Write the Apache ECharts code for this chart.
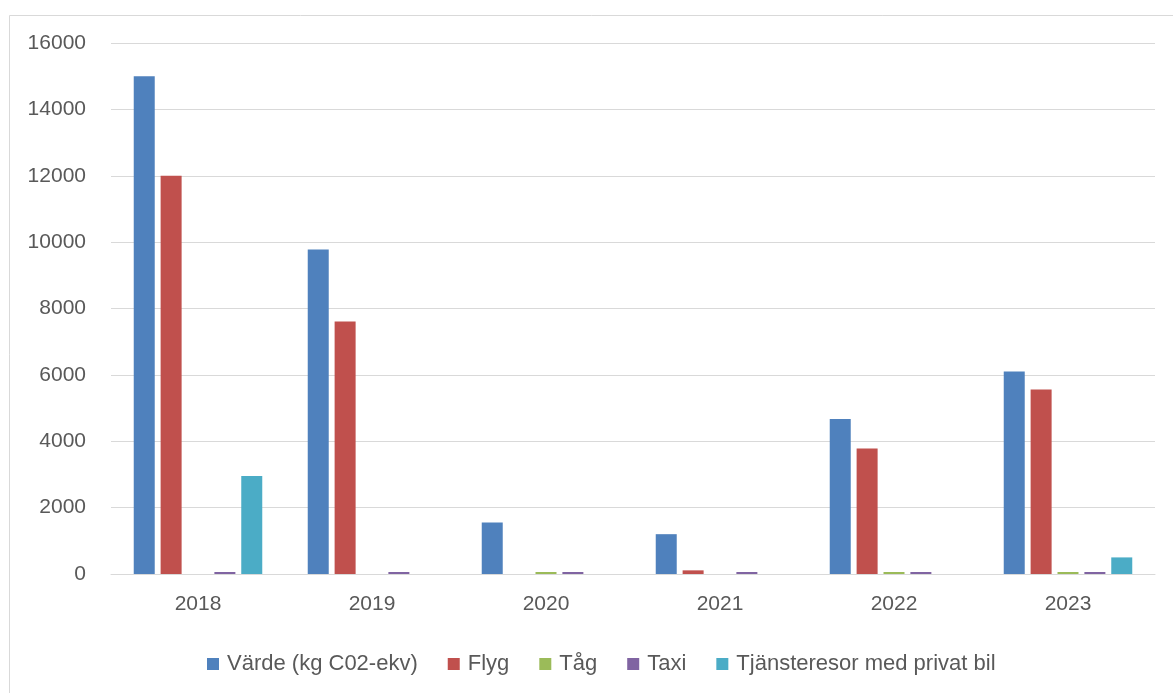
<!DOCTYPE html>
<html>
<head>
<meta charset="utf-8">
<script src="https://cdn.jsdelivr.net/npm/echarts@6/dist/echarts.min.js"></script>
<style>
html,body{margin:0;padding:0;background:#fff;}
#chart{width:1173px;height:693px;}
</style>
</head>
<body>
<div id="chart"></div>
<script>
const categories = ['2018', '2019', '2020', '2021', '2022', '2023'];
const seriesNames = ['Värde (kg C02-ekv)', 'Flyg', 'Tåg', 'Taxi', 'Tjänsteresor med privat bil'];
const varde = [15000, 9780, 1550, 1200, 4670, 6100];
const flyg = [12000, 7610, 0, 110, 3780, 5560];
const tag = [0, 0, 60, 0, 60, 60];
const taxi = [60, 60, 60, 60, 60, 60];
const privatBil = [2950, 0, 0, 0, 0, 500];
const colors = ['#4F81BD', '#C0504D', '#9BBB59', '#8064A2', '#4BACC6'];

const allData = [varde, flyg, tag, taxi, privatBil];
const chart = echarts.init(document.getElementById('chart'));
const fontFamily = '"Liberation Sans", Arial, sans-serif';
chart.setOption({
  animation: false,
  backgroundColor: '#fff',
  color: colors,
  graphic: [{
    type: 'rect',
    left: 7, top: 13,
    shape: { width: 1200, height: 700 },
    style: { fill: 'none', stroke: '#d9d9d9', lineWidth: 1 },
    silent: true
  }],
  grid: { left: 111, right: 18, top: 43, bottom: 119 },
  legend: {
    left: 202, top: 648,
    itemWidth: 12, itemHeight: 12, itemGap: 30,
    icon: 'rect',
    textStyle: { color: '#595959', fontSize: 22, fontFamily: fontFamily, padding: [0, 0, 0, 3] },
    data: seriesNames
  },
  xAxis: {
    type: 'category',
    data: categories,
    axisTick: { show: false },
    axisLine: { lineStyle: { color: '#d9d9d9', width: 1 } },
    axisLabel: { color: '#595959', fontSize: 21, fontFamily: fontFamily, margin: 20 }
  },
  yAxis: {
    type: 'value',
    min: 0, max: 16000, interval: 2000,
    axisLine: { show: false },
    axisTick: { show: false },
    splitLine: { lineStyle: { color: '#d9d9d9', width: 1 } },
    axisLabel: { color: '#595959', fontSize: 21, fontFamily: fontFamily, margin: 25, formatter: v => String(v) }
  },
  series: seriesNames.map((name, i) => ({
    name: name,
    type: 'bar',
    barWidth: 21,
    barGap: '28%',
    data: allData[i].map(v => v === 0 ? '-' : v),
    itemStyle: { color: colors[i] }
  }))
});
</script>
</body>
</html>
